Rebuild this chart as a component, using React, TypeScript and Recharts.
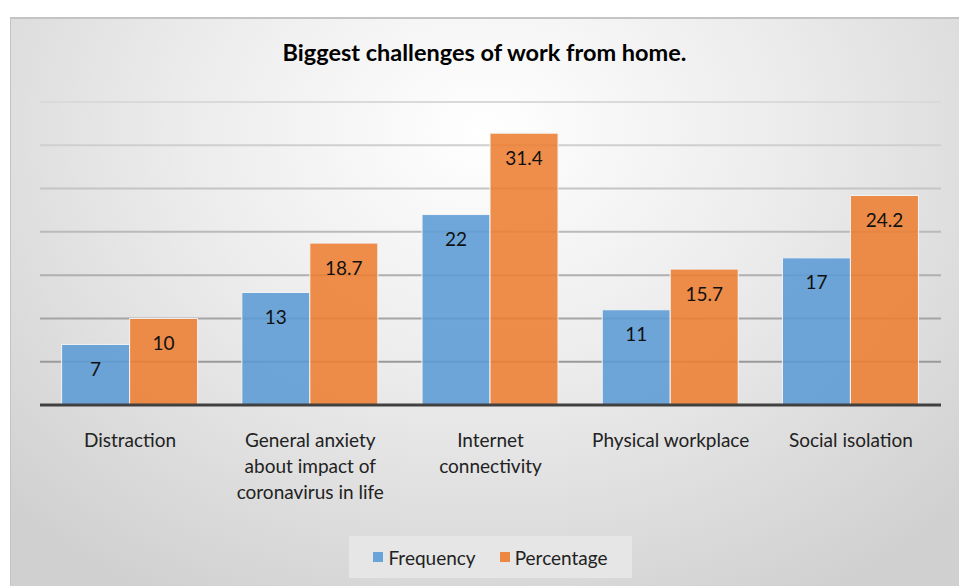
import React from 'react';
import { BarChart, Bar, XAxis, YAxis, CartesianGrid, LabelList } from 'recharts';

const categories = [
  'Distraction',
  'General anxiety about impact of coronavirus in life',
  'Internet connectivity',
  'Physical workplace',
  'Social isolation',
];
const frequency = [7, 13, 22, 11, 17];
const percentage = [10, 18.7, 31.4, 15.7, 24.2];
const yTicks = [0, 5, 10, 15, 20, 25, 30, 35];

const data = categories.map((name, i) => ({
  name,
  frequency: frequency[i],
  percentage: percentage[i],
}));

const FONT = 'Lato, "Open Sans", sans-serif';
const BLUE = '#5B9BD5';
const ORANGE = '#ED7D31';

// wrap by characters, like the Excel labels
const wrap = (s: string, max = 19) => {
  const lines: string[] = [];
  let cur = '';
  s.split(' ').forEach((w) => {
    const next = cur ? cur + ' ' + w : w;
    if (next.length > max && cur) {
      lines.push(cur);
      cur = w;
    } else {
      cur = next;
    }
  });
  if (cur) lines.push(cur);
  return lines;
};

const CategoryTick = (props: any) => {
  const { x, y, payload } = props;
  const lines = wrap(String(payload.value));
  return (
    <text x={x} y={y + 42} textAnchor="middle" style={{ fontFamily: FONT, fontSize: 19, fill: '#222' }}>
      {lines.map((l, i) => (
        <tspan key={i} x={x} dy={i === 0 ? 0 : 26}>
          {l}
        </tspan>
      ))}
    </text>
  );
};

const LegendBox = () => (
  <div
    style={{
      position: 'absolute',
      left: 349,
      top: 536,
      width: 283,
      height: 42,
      background: '#e6e6e6',
      display: 'flex',
      alignItems: 'center',
      justifyContent: 'center',
      fontFamily: FONT,
      fontSize: 19,
      color: '#222',
    }}
  >
    <span style={{ width: 10, height: 10, background: BLUE, opacity: 0.9, marginRight: 5 }} />
    <span style={{ marginRight: 24 }}>Frequency</span>
    <span style={{ width: 10, height: 10, background: ORANGE, opacity: 0.9, marginRight: 5 }} />
    <span>Percentage</span>
  </div>
);

export default function App() {
  return (
    <div style={{ position: 'absolute', left: 0, top: 0, width: 959, height: 586, background: '#fff', overflow: 'hidden' }}>
      <div
        style={{
          position: 'absolute',
          left: 10,
          top: 17,
          right: 0,
          bottom: 0,
          borderTop: '2px solid #c4c4c4',
          borderLeft: '1px solid #c4c4c4',
          background: 'radial-gradient(ellipse 70% 95% at 50% 20%, #ffffff 0%, #ececec 45%, #d0d0d0 100%)',
        }}
      />
      <div
        style={{
          position: 'absolute',
          left: 10,
          top: 38,
          width: 949,
          textAlign: 'center',
          fontFamily: FONT,
          fontWeight: 'bold',
          fontSize: 23.5,
          color: '#000',
        }}
      >
        Biggest challenges of work from home.
      </div>
      <div style={{ position: 'absolute', left: 0, top: 0 }}>
        <BarChart
          width={959}
          height={586}
          data={data}
          margin={{ top: 102, right: 18, bottom: 0, left: 40 }}
          barCategoryGap="12%"
          barGap={0}
        >
          <defs>
            <linearGradient id="gridGrad" gradientUnits="userSpaceOnUse" x1="0" y1="100" x2="0" y2="405">
              <stop offset="0%" stopColor="#dadada" />
              <stop offset="100%" stopColor="#8f8f8f" />
            </linearGradient>
          </defs>
          <CartesianGrid vertical={false} stroke="url(#gridGrad)" strokeWidth={2} />
          <YAxis hide domain={[0, 35]} ticks={yTicks} />
          <XAxis
            dataKey="name"
            height={181}
            interval={0}
            tickLine={false}
            tickSize={0}
            tickMargin={0}
            axisLine={{ stroke: '#404040', strokeWidth: 3 }}
            tick={<CategoryTick />}
          />
          <Bar dataKey="frequency" name="Frequency" fill={BLUE} fillOpacity={0.88} stroke="#f4f4f4" strokeWidth={1} isAnimationActive={false}>
            <LabelList dataKey="frequency" position="insideTop" offset={18} style={{ fontFamily: FONT, fontSize: 19, fill: '#111' }} />
          </Bar>
          <Bar dataKey="percentage" name="Percentage" fill={ORANGE} fillOpacity={0.88} stroke="#f4f4f4" strokeWidth={1} isAnimationActive={false}>
            <LabelList dataKey="percentage" position="insideTop" offset={18} style={{ fontFamily: FONT, fontSize: 19, fill: '#111' }} />
          </Bar>
        </BarChart>
      </div>
      <LegendBox />
    </div>
  );
}
